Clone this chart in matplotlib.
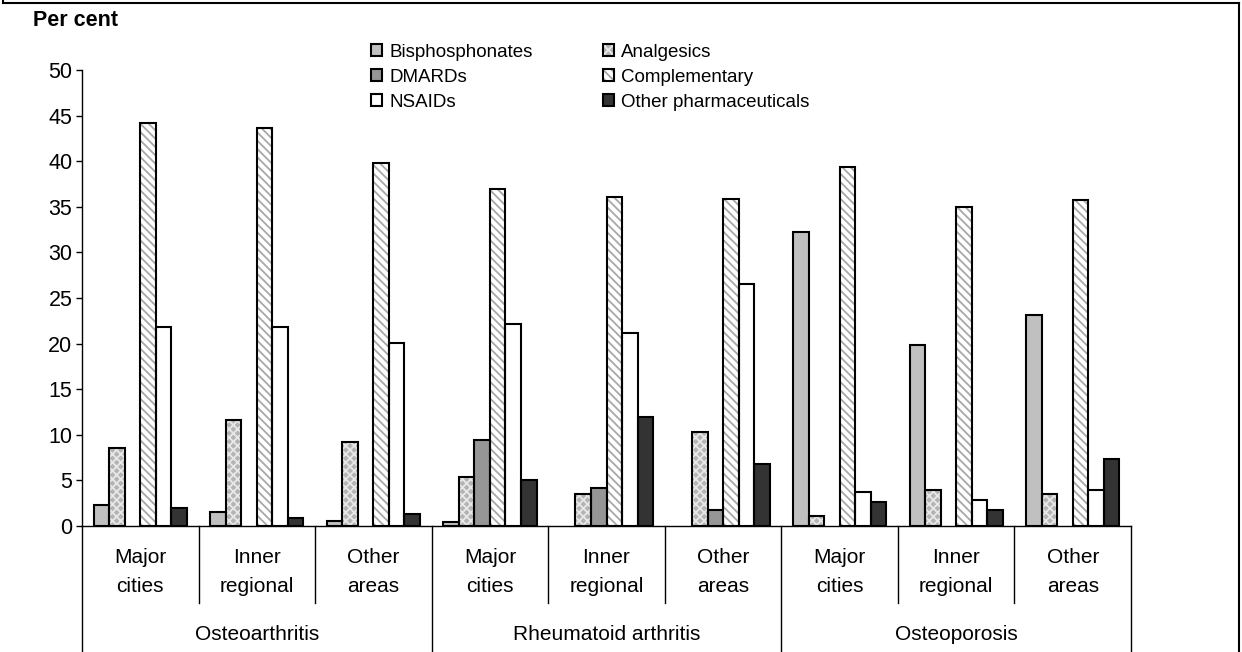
import numpy as np
import matplotlib
matplotlib.use('Agg')
import matplotlib.pyplot as plt
from matplotlib.patches import Patch
from matplotlib.lines import Line2D
from matplotlib.legend_handler import HandlerTuple

# data (per cent)
conditions = ['Osteoarthritis', 'Rheumatoid arthritis', 'Osteoporosis']
areas = ['Major\ncities', 'Inner\nregional', 'Other\nareas']
series = ['Bisphosphonates', 'Analgesics', 'DMARDs', 'Complementary',
          'NSAIDs', 'Other pharmaceuticals']

bisphosphonates = [2.3, 1.5, 0.6, 0.4, 0.0, 0.0, 32.2, 19.9, 23.1]
analgesics = [8.5, 11.6, 9.2, 5.4, 3.5, 10.3, 1.1, 3.9, 3.5]
dmards = [0.0, 0.0, 0.0, 9.4, 4.2, 1.7, 0.0, 0.0, 0.0]
complementary = [44.2, 43.6, 39.8, 37.0, 36.1, 35.9, 39.4, 35.0, 35.7]
nsaids = [21.8, 21.8, 20.1, 22.1, 21.2, 26.5, 3.7, 2.8, 4.0]
other_pharm = [2.0, 0.9, 1.3, 5.0, 12.0, 6.8, 2.6, 1.7, 7.4]

values = [bisphosphonates, analgesics, dmards, complementary, nsaids, other_pharm]

# fill colour, hatch, hatch colour
styles = [
    ('#c0c0c0', None, None),
    ('#b4b4b4', 'xxxx', '#e8e8e8'),
    ('#969696', None, None),
    ('#ffffff', '\\\\\\\\', '#a8a8a8'),
    ('#ffffff', None, None),
    ('#333333', None, None),
]

plt.rcParams['font.family'] = ['Liberation Sans', 'DejaVu Sans']
plt.rcParams['hatch.linewidth'] = 1.3

W, H = 1242, 652
fig = plt.figure(figsize=(W / 100, H / 100), dpi=100)
ax_l, ax_r, ax_b, ax_t = 82, 1131, 526, 70
ax = fig.add_axes([ax_l / W, (H - ax_b) / H, (ax_r - ax_l) / W, (ax_b - ax_t) / H])
ax_h = ax_b - ax_t

n_cat = len(conditions) * len(areas)
centers = np.arange(n_cat) + 0.5
bw = 0.8 / len(series)
edge_lw = 1.5

handles = []
for j, (name, vals, (fc, hatch, hc)) in enumerate(zip(series, values, styles)):
    vals = np.array(vals, dtype=float)
    mask = vals > 0
    x = centers[mask] + (j - 2.5) * bw
    if hatch:
        ax.bar(x, vals[mask], bw, color=fc, hatch=hatch, edgecolor=hc,
               linewidth=0, zorder=2)
    else:
        ax.bar(x, vals[mask], bw, color=fc, linewidth=0, zorder=2)
    ax.bar(x, vals[mask], bw, fill=False, edgecolor='black', linewidth=edge_lw,
           zorder=3)
    fill_patch = Patch(facecolor=fc, hatch=hatch, edgecolor=hc if hc else fc,
                       linewidth=0)
    edge_patch = Patch(fill=False, edgecolor='black', linewidth=edge_lw)
    handles.append((fill_patch, edge_patch))

ax.set_xlim(0, n_cat)
ax.set_ylim(0, 50)
ax.set_yticks(np.arange(0, 51, 5))
ax.set_xticks([])
ax.tick_params(axis='y', direction='out', length=4, width=1, labelsize=15.5,
               pad=3)
for s in ['top', 'right']:
    ax.spines[s].set_visible(False)
ax.spines['left'].set_linewidth(1)
ax.spines['bottom'].set_linewidth(1)

# category "table" under the axis
trans = ax.get_xaxis_transform()
full = -(H - 1 - ax_b) / ax_h
short = -(603 - ax_b) / ax_h
for k in range(n_cat + 1):
    y_end = full if k % 3 == 0 else short
    ax.plot([k, k], [0, y_end], color='black', lw=1, transform=trans,
            clip_on=False)
for i in range(n_cat):
    ax.text(centers[i], -(572 - ax_b) / ax_h, areas[i % 3], transform=trans,
            ha='center', va='center', fontsize=15, linespacing=1.65)
for g, cond in enumerate(conditions):
    ax.text(g * 3 + 1.5, -(635 - ax_b) / ax_h, cond, transform=trans,
            ha='center', va='center', fontsize=15)

fig.text(33 / W, 1 - 21 / H, 'Per cent', fontsize=15.5, fontweight='bold',
         va='center', ha='left')

order = [0, 2, 4, 1, 3, 5]
ax.legend([handles[i] for i in order], [series[i] for i in order], ncol=2,
          loc='upper left', bbox_to_anchor=(371 / W, 1 - 44 / H),
          bbox_transform=fig.transFigure, frameon=False, fontsize=13.5,
          handlelength=0.6, handleheight=0.6, handletextpad=0.4,
          labelspacing=0.42, columnspacing=3.7, borderpad=0, borderaxespad=0,
          handler_map={tuple: HandlerTuple(ndivide=1)})

# outer border
for xs, ys in [([3, 3], [0, 3]), ([3, 1239], [3, 3]), ([1239, 1239], [3, H])]:
    fig.add_artist(Line2D([x / W for x in xs], [1 - y / H for y in ys],
                          color='black', lw=1.5))

fig.savefig('out.png', dpi=100)
